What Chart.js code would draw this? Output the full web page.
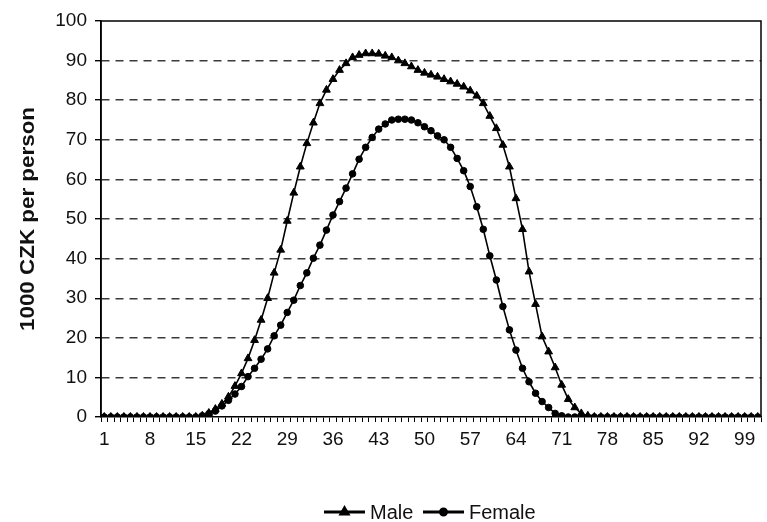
<!DOCTYPE html>
<html><head><meta charset="utf-8">
<script src="https://cdn.jsdelivr.net/npm/chart.js@4/dist/chart.umd.min.js"></script>
<style>html,body{margin:0;padding:0;background:#fff;}#wrap{width:767px;height:522px;position:relative;}canvas{display:block;}</style>
</head><body><div id="wrap"><canvas id="c" width="767" height="522" style="width:767px;height:522px;"></canvas></div>
<script>
// Categories (age index 1..101)
const categories = [];
for (let i = 1; i <= 101; i++) categories.push(String(i));

const yTickValues = [0,10,20,30,40,50,60,70,80,90,100];
const yTitle = "1000 CZK per person";
const seriesNames = ["Male", "Female"];

const maleValues = [
  0,0,0,0,0,0,0,0,0,0,0,0,0,0,0,
  0.3,1.0,2.0,3.3,5.1,7.8,11.0,14.8,19.4,24.5,30.0,36.4,42.2,49.5,56.6,
  63.2,69.1,74.3,79.2,82.6,85.3,87.6,89.3,90.8,91.4,91.8,91.8,91.7,91.2,90.8,
  90.0,89.3,88.5,87.6,86.9,86.4,85.9,85.3,84.7,84.1,83.4,82.4,81.1,79.2,76.0,
  72.9,68.7,63.2,55.2,47.4,36.7,28.5,20.3,16.5,12.5,8.1,4.5,2.4,0.9,0.3,
  0,0,0,0,0,0,0,0,0,0,0,0,0,0,0,0,0,0,0,0,0,0,0,0,0,0
];
const femaleValues = [
  0,0,0,0,0,0,0,0,0,0,0,0,0,0,0,
  0.3,0.8,1.5,2.8,4.2,5.8,7.7,10.2,12.3,14.6,17.2,20.5,23.2,26.4,29.5,
  33.2,36.4,40.1,43.4,47.2,51.0,54.4,57.8,61.4,65.1,68.1,70.6,72.7,74.0,75.0,
  75.2,75.2,75.0,74.3,73.3,72.3,71.0,70.0,68.1,65.3,62.2,58.2,53.1,47.4,40.7,
  34.6,27.9,22.0,16.9,12.3,8.9,6.0,3.9,2.4,0.9,0.3,
  0,0,0,0,0,0,0,0,0,0,0,0,0,0,0,0,0,0,0,0,0,0,0,0,0,0,0,0,0,0
];

const FONT = "Arial, 'Liberation Sans', sans-serif";
const TXT = "#111";

const decor = {
  id: 'decor',
  afterDraw(chart) {
    const {ctx, chartArea: a} = chart;
    ctx.save();
    ctx.strokeStyle = '#000';
    ctx.lineWidth = 1.5;
    ctx.setLineDash([]);
    ctx.beginPath();
    ctx.moveTo(a.left, a.bottom); ctx.lineTo(a.left, a.top);
    ctx.lineTo(a.right, a.top); ctx.lineTo(a.right, a.bottom);
    ctx.stroke();
    ctx.fillStyle = TXT;
    ctx.font = "bold 20px " + FONT;
    ctx.textAlign = 'center';
    ctx.textBaseline = 'middle';
    ctx.translate(28, (a.top + a.bottom) / 2);
    ctx.rotate(-Math.PI / 2);
    ctx.scale(1.12, 1);
    ctx.fillText(yTitle, 0, 0);
    ctx.restore();

    ctx.save();
    const ly = 512;
    const items = [
      {name: seriesNames[0], x0: 324, style: 'triangle', r: 4},
      {name: seriesNames[1], x0: 423, style: 'circle', r: 3}
    ];
    ctx.font = "20px " + FONT;
    ctx.textBaseline = 'middle';
    ctx.textAlign = 'left';
    items.forEach(it => {
      ctx.strokeStyle = '#000';
      ctx.lineWidth = 3;
      ctx.beginPath(); ctx.moveTo(it.x0, ly); ctx.lineTo(it.x0 + 41, ly); ctx.stroke();
      ctx.fillStyle = '#000';
      Chart.helpers.drawPoint(ctx, {pointStyle: it.style, radius: it.r, borderWidth: 1}, it.x0 + 20.5, ly);
      ctx.fillStyle = TXT;
      ctx.fillText(it.name, it.x0 + 46, ly + 1);
    });
    ctx.restore();
  }
};

new Chart(document.getElementById('c'), {
  type: 'line',
  data: {
    labels: categories,
    datasets: [
      {label: seriesNames[0], data: maleValues, borderColor: '#000', backgroundColor: '#000',
       borderWidth: 1.6, pointStyle: 'triangle', pointRadius: 4.5, pointBorderWidth: 1,
       pointBackgroundColor: '#000', pointBorderColor: '#000', tension: 0},
      {label: seriesNames[1], data: femaleValues, borderColor: '#000', backgroundColor: '#000',
       borderWidth: 1.6, pointStyle: 'circle', pointRadius: 3.3, pointBorderWidth: 1,
       pointBackgroundColor: '#000', pointBorderColor: '#000', tension: 0}
    ]
  },
  options: {
    responsive: false,
    maintainAspectRatio: false,
    animation: false,
    devicePixelRatio: 1,
    layout: {padding: {left: 0, top: 21, right: 6, bottom: 0}},
    plugins: {legend: {display: false}, tooltip: {enabled: false}},
    scales: {
      x: {
        type: 'category',
        offset: true,
        afterFit(s) { s.height = 105; },
        grid: {offset: true, drawOnChartArea: false, drawTicks: true, tickLength: 5,
               tickColor: '#000', tickWidth: 1},
        border: {display: true, color: '#000', width: 1.5},
        ticks: {autoSkip: false, maxRotation: 0, minRotation: 0, padding: 6,
                color: TXT, font: {family: FONT, size: 19},
                callback: (v, i) => (i % 7 === 0 ? categories[i] : '')}
      },
      y: {
        min: 0, max: 100,
        afterFit(s) { s.width = 101; },
        afterBuildTicks(s) { s.ticks = yTickValues.map(v => ({value: v})); },
        grid: {color: (c) => (c.tick && (c.tick.value === 0 || c.tick.value === 100)) ? 'rgba(0,0,0,0)' : '#3a3a3a',
               lineWidth: 1.4, drawTicks: true, tickLength: 6, tickColor: '#000', tickWidth: 1.4,
               tickBorderDash: []},
        border: {display: true, color: '#000', width: 1.5, dash: [8, 6]},
        ticks: {padding: 8, color: TXT, font: {family: FONT, size: 19}}
      }
    }
  },
  plugins: [decor]
});
</script></body></html>
